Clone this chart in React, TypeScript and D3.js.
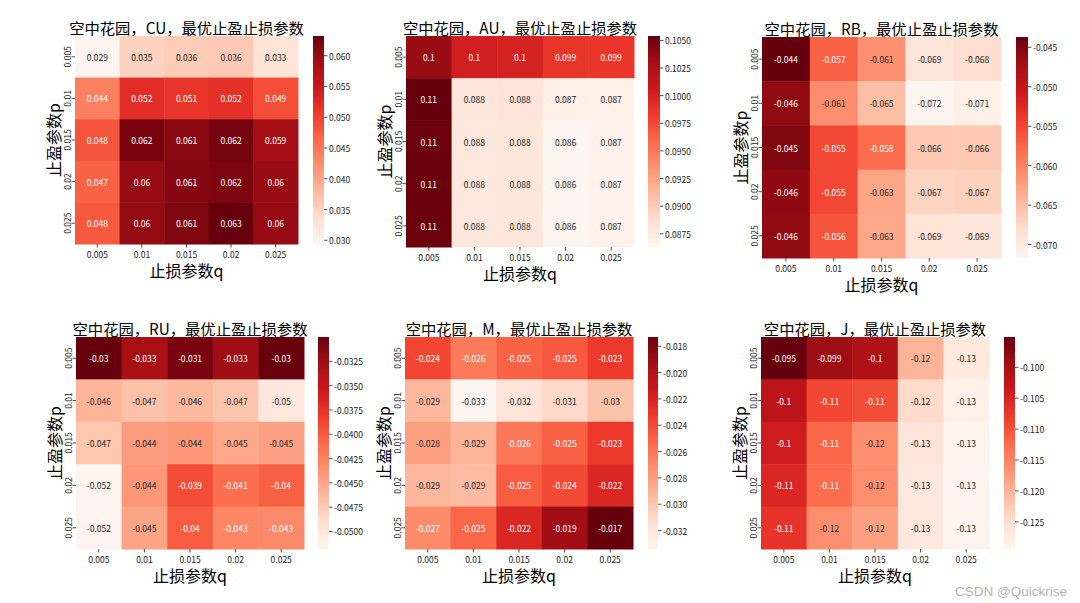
import React from "react";
import * as d3 from "d3";

// ---------- data ----------
const pLabels = ["0.005", "0.01", "0.015", "0.02", "0.025"]; // rows: 止盈参数p
const qLabels = ["0.005", "0.01", "0.015", "0.02", "0.025"]; // cols: 止损参数q

const cuValues = [
  [0.0294, 0.0352, 0.036, 0.0362, 0.033],
  [0.044, 0.0522, 0.0512, 0.0518, 0.0488],
  [0.0482, 0.062, 0.0608, 0.0622, 0.059],
  [0.047, 0.06, 0.0612, 0.0618, 0.0598],
  [0.0478, 0.0602, 0.0615, 0.0632, 0.06],
];
const auValues = [
  [0.1035, 0.1002, 0.1, 0.0987, 0.0986],
  [0.1054, 0.088, 0.0882, 0.087, 0.0868],
  [0.1052, 0.0879, 0.088, 0.0863, 0.0867],
  [0.1053, 0.0879, 0.088, 0.0863, 0.0867],
  [0.1052, 0.0879, 0.088, 0.0863, 0.0867],
];
const rbValues = [
  [-0.0437, -0.057, -0.061, -0.069, -0.0682],
  [-0.046, -0.0608, -0.065, -0.0717, -0.0708],
  [-0.0451, -0.0552, -0.058, -0.066, -0.066],
  [-0.0459, -0.0551, -0.0628, -0.067, -0.0668],
  [-0.046, -0.056, -0.063, -0.0688, -0.069],
];
const ruValues = [
  [-0.03, -0.033, -0.0308, -0.0326, -0.0301],
  [-0.0458, -0.0468, -0.0462, -0.047, -0.05],
  [-0.0472, -0.0443, -0.044, -0.045, -0.0446],
  [-0.0518, -0.044, -0.0392, -0.0412, -0.0403],
  [-0.0517, -0.0448, -0.0401, -0.0428, -0.043],
];
const mValues = [
  [-0.0238, -0.0262, -0.025, -0.0246, -0.0232],
  [-0.0292, -0.0334, -0.0318, -0.031, -0.0298],
  [-0.028, -0.029, -0.026, -0.025, -0.0232],
  [-0.0292, -0.0294, -0.0248, -0.024, -0.0222],
  [-0.027, -0.0252, -0.0222, -0.0192, -0.0173],
];
const jValues = [
  [-0.0951, -0.099, -0.1005, -0.12, -0.127],
  [-0.102, -0.109, -0.1095, -0.1245, -0.1285],
  [-0.104, -0.112, -0.116, -0.126, -0.129],
  [-0.1055, -0.1125, -0.116, -0.1265, -0.1292],
  [-0.107, -0.116, -0.118, -0.1265, -0.1294],
];

const cuTicks = [0.03, 0.035, 0.04, 0.045, 0.05, 0.055, 0.06];
const auTicks = [0.0875, 0.09, 0.0925, 0.095, 0.0975, 0.1, 0.1025, 0.105];
const rbTicks = [-0.07, -0.065, -0.06, -0.055, -0.05, -0.045];
const ruTicks = [-0.05, -0.0475, -0.045, -0.0425, -0.04, -0.0375, -0.035, -0.0325];
const mTicks = [-0.032, -0.03, -0.028, -0.026, -0.024, -0.022, -0.02, -0.018];
const jTicks = [-0.125, -0.12, -0.115, -0.11, -0.105, -0.1];

const varieties = ["CU", "AU", "RB", "RU", "M", "J"];
const allValues = [cuValues, auValues, rbValues, ruValues, mValues, jValues];
const allTicks = [cuTicks, auTicks, rbTicks, ruTicks, mTicks, jTicks];

const xTitle = "止损参数q";
const yTitle = "止盈参数p";
const titleFor = (v: string) => `空中花园，${v}，最优止盈止损参数`;

// ---------- layout ----------
const layouts = [
  { x0: 75, x1: 298, y0: 36, y1: 244, c0: 313, c1: 324 },
  { x0: 406, x1: 634, y0: 36, y1: 247, c0: 648, c1: 660 },
  { x0: 762, x1: 1001, y0: 37, y1: 258, c0: 1016, c1: 1028 },
  { x0: 76, x1: 304, y0: 337, y1: 549, c0: 318, c1: 329 },
  { x0: 405, x1: 633, y0: 337, y1: 549, c0: 648, c1: 658 },
  { x0: 761, x1: 989, y0: 337, y1: 549, c0: 1004, c1: 1015 },
];

const FONT = "'Noto Sans CJK SC', 'Noto Sans', sans-serif";
const SMALL = 8.5;

const reds = d3.piecewise(d3.interpolateRgb, [
  "#fff5f0", "#fee0d2", "#fcbba1", "#fc9272", "#fb6a4a", "#ef3b2c", "#cb181d", "#a50f15", "#67000d",
]);

const locale = d3.formatLocale({ decimal: ".", thousands: ",", grouping: [3], currency: ["", ""], minus: "-" });
const annot = locale.format(".2~g");

function decimalsFor(step: number) {
  let d = 0;
  while (d < 8 && Math.abs(Math.round(step * 10 ** d) - step * 10 ** d) > 1e-7) d++;
  return d;
}

function luminance(c: string) {
  const rgb = d3.rgb(c);
  const f = (v: number) => {
    const s = v / 255;
    return s <= 0.03928 ? s / 12.92 : Math.pow((s + 0.055) / 1.055, 2.4);
  };
  return 0.2126 * f(rgb.r) + 0.7152 * f(rgb.g) + 0.0722 * f(rgb.b);
}

function Heatmap({ idx }: { idx: number }) {
  const L = layouts[idx];
  const values = allValues[idx];
  const ticks = allTicks[idx];
  const flat = values.flat();
  const vmin = d3.min(flat)!;
  const vmax = d3.max(flat)!;
  const color = d3.scaleSequential(reds).domain([vmin, vmax]);
  const x = d3.scaleBand<string>().domain(qLabels).range([L.x0, L.x1]).padding(0);
  const y = d3.scaleBand<string>().domain(pLabels).range([L.y0, L.y1]).padding(0);
  const cb = d3.scaleLinear().domain([vmin, vmax]).range([L.y1, L.y0]);
  const step = Math.abs(ticks[1] - ticks[0]);
  const tickFmt = locale.format(`.${decimalsFor(step)}f`);
  const gid = `grad${idx}`;
  const stops = d3.range(0, 1.0001, 0.05);
  const cx = (L.x0 + L.x1) / 2;
  const cy = (L.y0 + L.y1) / 2;
  return (
    <g>
      <defs>
        <linearGradient id={gid} x1="0" y1="1" x2="0" y2="0">
          {stops.map((t) => (
            <stop key={t} offset={t} stopColor={reds(t)} />
          ))}
        </linearGradient>
      </defs>
      <text x={cx} y={L.y0 - 9} textAnchor="middle" dominantBaseline="central" fontSize={15.3} fontFamily={FONT} fill="#000">
        {titleFor(varieties[idx])}
      </text>
      {values.map((row, i) =>
        row.map((v, j) => {
          const fill = color(v);
          const tc = luminance(fill) > 0.408 ? "#262626" : "#ffffff";
          return (
            <g key={`${i}-${j}`}>
              <rect x={x(qLabels[j])} y={y(pLabels[i])} width={x.bandwidth() + 0.5} height={y.bandwidth() + 0.5} fill={fill} />
              <text
                x={x(qLabels[j])! + x.bandwidth() / 2}
                y={y(pLabels[i])! + y.bandwidth() / 2}
                textAnchor="middle"
                dominantBaseline="central"
                fontSize={SMALL}
                fontFamily={FONT}
                fill={tc}
              >
                {annot(v)}
              </text>
            </g>
          );
        })
      )}
      {qLabels.map((q) => {
        const px = x(q)! + x.bandwidth() / 2;
        return (
          <g key={q}>
            <line x1={px} x2={px} y1={L.y1} y2={L.y1 + 3.5} stroke="#222" strokeWidth={0.8} />
            <text x={px} y={L.y1 + 10} textAnchor="middle" dominantBaseline="central" fontSize={SMALL} fontFamily={FONT} fill="#222">
              {q}
            </text>
          </g>
        );
      })}
      {pLabels.map((p) => {
        const py = y(p)! + y.bandwidth() / 2;
        return (
          <g key={p}>
            <line x1={L.x0 - 3.5} x2={L.x0} y1={py} y2={py} stroke="#222" strokeWidth={0.8} />
            <text
              transform={`translate(${L.x0 - 8},${py}) rotate(-90)`}
              textAnchor="middle"
              dominantBaseline="central"
              fontSize={SMALL}
              fontFamily={FONT}
              fill="#222"
            >
              {p}
            </text>
          </g>
        );
      })}
      <text x={cx} y={L.y1 + 26} textAnchor="middle" dominantBaseline="central" fontSize={16} fontFamily={FONT} fill="#000">
        {xTitle}
      </text>
      <text
        transform={`translate(${L.x0 - 22},${cy}) rotate(-90)`}
        textAnchor="middle"
        dominantBaseline="central"
        fontSize={16}
        fontFamily={FONT}
        fill="#000"
      >
        {yTitle}
      </text>
      <rect x={L.c0} y={L.y0} width={L.c1 - L.c0} height={L.y1 - L.y0} fill={`url(#${gid})`} />
      {ticks.map((t) => (
        <g key={t}>
          <line x1={L.c1} x2={L.c1 + 3.5} y1={cb(t)} y2={cb(t)} stroke="#222" strokeWidth={0.8} />
          <text x={L.c1 + 5} y={cb(t)} dominantBaseline="central" fontSize={SMALL} fontFamily={FONT} fill="#222">
            {tickFmt(t)}
          </text>
        </g>
      ))}
    </g>
  );
}

export default function App() {
  return (
    <svg width={1080} height={603} style={{ position: "absolute", left: 0, top: 0, background: "#fff" }}>
      <rect x={0} y={0} width={1080} height={603} fill="#fff" />
      {layouts.map((_, i) => (
        <Heatmap key={i} idx={i} />
      ))}
      <text x={1067} y={591} textAnchor="end" dominantBaseline="central" fontSize={13.5} fontFamily="'Liberation Sans', Arial, sans-serif" fill="#b4b4b4">
        CSDN @Quickrise
      </text>
    </svg>
  );
}
